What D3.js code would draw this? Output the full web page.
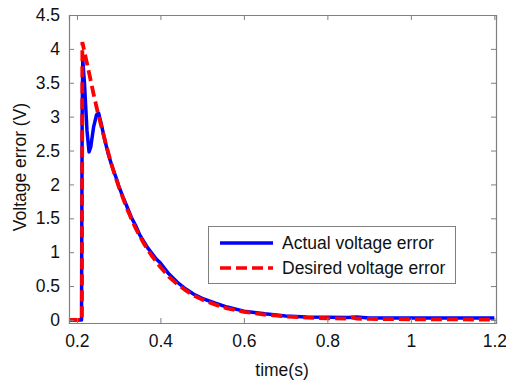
<!DOCTYPE html>
<html><head><meta charset="utf-8">
<script src="https://cdn.jsdelivr.net/npm/d3@7/dist/d3.min.js"></script>
<style>html,body{margin:0;padding:0;background:#fff;}svg{display:block;}</style>
</head><body><svg id="chart" width="506" height="381"></svg>
<script>
const xTicks = [0.2, 0.4, 0.6, 0.8, 1, 1.2];
const yTicks = [0, 0.5, 1, 1.5, 2, 2.5, 3, 3.5, 4, 4.5];
const seriesNames = ["Actual voltage error", "Desired voltage error"];

const actualT = [0.18, 0.211, 0.2125, 0.214, 0.218, 0.224, 0.229, 0.233, 0.24, 0.247, 0.252, 0.258, 0.265, 0.275, 0.285, 0.295, 0.30, 0.31, 0.32, 0.33, 0.34, 0.35, 0.36, 0.37, 0.38, 0.39, 0.40, 0.42, 0.44, 0.46, 0.48, 0.50, 0.53, 0.56, 0.60, 0.65, 0.70, 0.75, 0.80, 0.85, 0.87, 0.90, 1.0, 1.1, 1.2];
const actualV = [0, 0, 3.0, 3.83, 3.5, 2.8, 2.48, 2.55, 2.85, 3.03, 3.05, 2.9, 2.7, 2.45, 2.25, 2.08, 1.98, 1.82, 1.67, 1.52, 1.40, 1.26, 1.16, 1.06, 0.98, 0.90, 0.84, 0.68, 0.56, 0.46, 0.38, 0.32, 0.25, 0.19, 0.13, 0.09, 0.06, 0.045, 0.04, 0.035, 0.045, 0.03, 0.03, 0.03, 0.03];

const desiredT = [0.18, 0.212, 0.213, 0.22, 0.23, 0.24, 0.25, 0.26, 0.27, 0.28, 0.29, 0.30, 0.32, 0.34, 0.36, 0.38, 0.40, 0.42, 0.44, 0.46, 0.48, 0.50, 0.53, 0.56, 0.60, 0.65, 0.70, 0.75, 0.80, 0.85, 0.86, 0.87, 0.90, 1.0, 1.1, 1.2];
const desiredV = [0, 0, 4.10, 3.90, 3.62, 3.33, 3.06, 2.82, 2.58, 2.36, 2.15, 1.97, 1.64, 1.36, 1.13, 0.94, 0.78, 0.64, 0.53, 0.44, 0.36, 0.30, 0.23, 0.17, 0.12, 0.08, 0.05, 0.035, 0.025, 0.02, 0.035, 0.02, 0.015, 0.01, 0.008, 0.005];

const svg = d3.select("#chart");
const L = 69, R = 496, T = 15, B = 323;
const x = d3.scaleLinear().domain([0.181, 1.204]).range([L, R]);
const y = d3.scaleLinear().domain([-0.045, 4.5]).range([B, T]);
const axisColor = "#808080";
const font = "'Liberation Sans', Arial, sans-serif";

svg.append("rect").attr("width", 506).attr("height", 381).attr("fill", "#fff");

const line = d3.line().x(d => x(d[0])).y(d => y(d[1]));
const actual = actualT.map((t, i) => [t, actualV[i]]);
const desired = desiredT.map((t, i) => [t, desiredV[i]]);
svg.append("defs").append("clipPath").attr("id", "clip")
  .append("rect").attr("x", L).attr("y", T).attr("width", R - L).attr("height", B - T);
const g = svg.append("g").attr("clip-path", "url(#clip)");
g.append("path").datum(actual).attr("d", line).attr("fill", "none")
  .attr("stroke", "#0000ff").attr("stroke-width", 3.5).attr("stroke-linejoin", "round");
g.append("path").datum(desired).attr("d", line).attr("fill", "none")
  .attr("stroke", "#ff0000").attr("stroke-width", 3.8).attr("stroke-dasharray", "11,5");

const tl = 5;
const xb = svg.append("g").attr("transform", `translate(0,${B})`)
  .call(d3.axisBottom(x).tickValues(xTicks).tickSize(-tl).tickPadding(12).tickFormat(d3.format("")));
const xt = svg.append("g").attr("transform", `translate(0,${T})`)
  .call(d3.axisTop(x).tickValues(xTicks).tickSize(-tl).tickFormat(""));
const yl = svg.append("g").attr("transform", `translate(${L},0)`)
  .call(d3.axisLeft(y).tickValues(yTicks).tickSize(-tl).tickPadding(9).tickFormat(d3.format("")));
const yr = svg.append("g").attr("transform", `translate(${R},0)`)
  .call(d3.axisRight(y).tickValues(yTicks).tickSize(-tl).tickFormat(""));
[xb, xt, yl, yr].forEach(a => {
  a.select(".domain").attr("stroke", axisColor).attr("stroke-width", 1.2);
  a.selectAll(".tick line").attr("stroke", axisColor);
  a.selectAll("text").attr("font-family", font).attr("font-size", 17.5).attr("fill", "#111");
});
xb.selectAll("text").attr("dy", "0.71em");

svg.append("text").attr("x", 282).attr("y", 376).attr("text-anchor", "middle")
  .attr("font-family", font).attr("font-size", 17.5).attr("fill", "#111").text("time(s)");
svg.append("text").attr("transform", "translate(26,167) rotate(-90)").attr("text-anchor", "middle")
  .attr("font-family", font).attr("font-size", 17.5).attr("fill", "#111").text("Voltage error (V)");

const lg = svg.append("g");
lg.append("rect").attr("x", 208.5).attr("y", 226.5).attr("width", 247).attr("height", 57)
  .attr("fill", "#fff").attr("stroke", axisColor).attr("stroke-width", 1);
const colors = ["#0000ff", "#ff0000"];
seriesNames.forEach((n, i) => {
  const yy = 243 + i * 25;
  const ln = lg.append("line").attr("x1", 220).attr("x2", 273).attr("y1", yy).attr("y2", yy)
    .attr("stroke", colors[i]).attr("stroke-width", 3.5);
  if (i === 1) ln.attr("stroke-dasharray", "11,5");
  lg.append("text").attr("x", 282).attr("y", yy).attr("dy", "0.35em")
    .attr("font-family", font).attr("font-size", 17.5).attr("fill", "#111").text(n);
});
</script></body></html>
